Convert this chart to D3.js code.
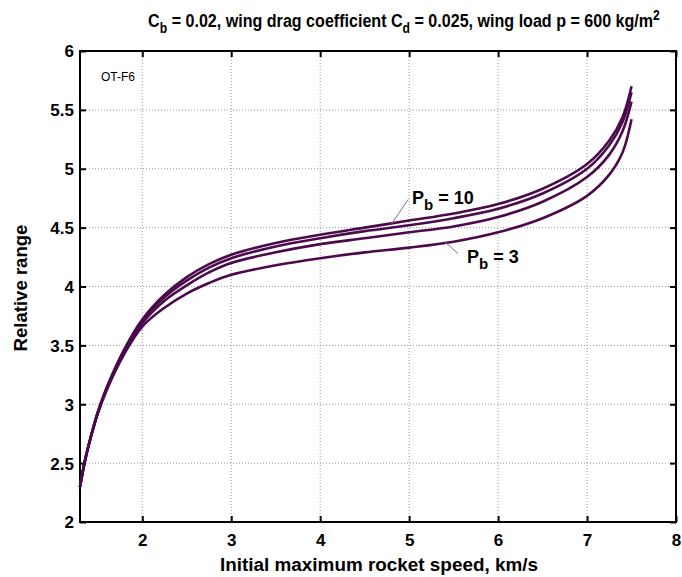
<!DOCTYPE html>
<html><head><meta charset="utf-8">
<script src="https://cdn.jsdelivr.net/npm/d3@7"></script>
<style>body{margin:0;background:#fff}svg text{font-family:"Liberation Sans",Arial,sans-serif}</style>
</head><body><svg id="c" width="682" height="577"></svg>
<script>
const speeds = [1.3, 1.35, 1.4, 1.5, 1.6, 1.8, 2.0, 2.25, 2.5, 2.75, 3.0, 3.5, 4.0, 4.5, 5.0, 5.5, 6.0, 6.5, 7.0, 7.25, 7.4, 7.5];
const rangePb10 = [2.30, 2.50, 2.66, 2.93, 3.14, 3.47, 3.72, 3.93, 4.08, 4.19, 4.27, 4.37, 4.44, 4.50, 4.56, 4.62, 4.70, 4.83, 5.04, 5.24, 5.44, 5.70];
const rangePb7  = [2.30, 2.50, 2.66, 2.93, 3.14, 3.46, 3.71, 3.91, 4.05, 4.16, 4.24, 4.34, 4.41, 4.47, 4.52, 4.58, 4.66, 4.79, 5.00, 5.20, 5.40, 5.65];
const rangePb5  = [2.30, 2.50, 2.66, 2.93, 3.13, 3.45, 3.69, 3.88, 4.01, 4.12, 4.20, 4.29, 4.36, 4.41, 4.46, 4.51, 4.59, 4.72, 4.93, 5.12, 5.32, 5.57];
const rangePb3  = [2.30, 2.50, 2.66, 2.92, 3.12, 3.43, 3.66, 3.82, 3.94, 4.03, 4.10, 4.18, 4.24, 4.29, 4.33, 4.38, 4.46, 4.58, 4.77, 4.95, 5.14, 5.42];
const seriesList = [rangePb10, rangePb7, rangePb5, rangePb3];
const xTicks = [2, 3, 4, 5, 6, 7, 8];
const yTicks = [2, 2.5, 3, 3.5, 4, 4.5, 5, 5.5, 6];

const L = 80, R = 676, T = 51, B = 522;
const svg = d3.select('#c');
const x = d3.scaleLinear().domain([1.3, 8]).range([L, R]);
const y = d3.scaleLinear().domain([2, 6]).range([B, T]);

// grid
const g = svg.append('g');
g.selectAll('line.gx').data(xTicks.filter(d => d < 8)).join('line')
  .attr('x1', d => x(d)).attr('x2', d => x(d)).attr('y1', T).attr('y2', B)
  .attr('stroke', '#9a9a9a').attr('stroke-width', 1).attr('stroke-dasharray', '1,2');
g.selectAll('line.gy').data(yTicks.filter(d => d > 2 && d < 6)).join('line')
  .attr('x1', L).attr('x2', R).attr('y1', d => y(d)).attr('y2', d => y(d))
  .attr('stroke', '#9a9a9a').attr('stroke-width', 1).attr('stroke-dasharray', '1,2');

// axes
const fmt = d => String(d);
const axB = svg.append('g').attr('transform', `translate(0,${B})`)
  .call(d3.axisBottom(x).tickValues(xTicks).tickFormat(fmt).tickSizeInner(-6).tickSizeOuter(0).tickPadding(12));
const axT = svg.append('g').attr('transform', `translate(0,${T})`)
  .call(d3.axisTop(x).tickValues(xTicks).tickFormat('').tickSizeInner(-6).tickSizeOuter(0));
const axLf = svg.append('g').attr('transform', `translate(${L},0)`)
  .call(d3.axisLeft(y).tickValues(yTicks).tickFormat(fmt).tickSizeInner(-6).tickSizeOuter(0).tickPadding(6));
const axRt = svg.append('g').attr('transform', `translate(${R},0)`)
  .call(d3.axisRight(y).tickValues(yTicks).tickFormat('').tickSizeInner(-6).tickSizeOuter(0));
[axB, axT, axLf, axRt].forEach(a => {
  a.select('.domain').remove();
  a.selectAll('.tick line').attr('stroke', '#000').attr('stroke-width', 2);
  a.selectAll('text').attr('font-size', 17).attr('font-weight', 'bold').attr('fill', '#000')
    .style('font-family', '"Liberation Sans",Arial,sans-serif');
});
axLf.selectAll('text').attr('dy', '0.35em');

svg.append('rect').attr('x', L).attr('y', T).attr('width', R - L).attr('height', B - T)
  .attr('fill', 'none').attr('stroke', '#000').attr('stroke-width', 2);

// curves
const line = d3.line().x((d, i) => x(speeds[i])).y(d => y(d)).curve(d3.curveCatmullRom.alpha(0.5));
svg.append('g').selectAll('path').data(seriesList).join('path')
  .attr('d', d => line(d)).attr('fill', 'none').attr('stroke', '#4b0a4b').attr('stroke-width', 2.6);

// fit helper: horizontally scale a text to a target width, centred at cx
function fit(sel, cx, yy, w, rot) {
  const len = sel.node().getComputedTextLength();
  const s = w / len;
  if (rot) sel.attr('transform', `translate(${cx},${yy}) rotate(-90) scale(${s},1)`);
  else sel.attr('transform', `translate(${cx},${yy}) scale(${s},1)`);
}

// annotations
const ann = svg.append('g');
ann.append('line').attr('x1', x(4.8)).attr('y1', y(4.53)).attr('x2', x(4.99)).attr('y2', y(4.74))
  .attr('stroke', '#777').attr('stroke-width', 1);
ann.append('line').attr('x1', x(5.4)).attr('y1', y(4.38)).attr('x2', x(5.55)).attr('y2', y(4.28))
  .attr('stroke', '#777').attr('stroke-width', 1);
const t1 = ann.append('text').attr('x', 412).attr('y', 204).attr('font-size', 18).attr('font-weight', 'bold');
t1.append('tspan').text('P');
t1.append('tspan').attr('dy', 6).attr('font-size', 15).text('b');
t1.append('tspan').attr('dy', -6).text(' = 10');
const t2 = ann.append('text').attr('x', 467).attr('y', 263).attr('font-size', 18).attr('font-weight', 'bold');
t2.append('tspan').text('P');
t2.append('tspan').attr('dy', 6).attr('font-size', 15).text('b');
t2.append('tspan').attr('dy', -6).text(' = 3');

svg.append('text').attr('x', 101).attr('y', 81).attr('font-size', 12).text('OT-F6');

// title
const tt = svg.append('text').attr('text-anchor', 'middle')
  .attr('font-size', 18.5).attr('font-weight', 'bold');
tt.append('tspan').text('C');
tt.append('tspan').attr('dy', 6).attr('font-size', 14).text('b');
tt.append('tspan').attr('dy', -6).text(' = 0.02, wing drag coefficient C');
tt.append('tspan').attr('dy', 6).attr('font-size', 14).text('d');
tt.append('tspan').attr('dy', -6).text(' = 0.025, wing load p = 600 kg/m');
tt.append('tspan').attr('dy', -7).attr('font-size', 14).text('2');
fit(tt, 404, 27, 512);

// axis labels
const xl = svg.append('text').attr('text-anchor', 'middle')
  .attr('font-size', 19).attr('font-weight', 'bold').text('Initial maximum rocket speed, km/s');
fit(xl, 379, 571, 318);
const yl = svg.append('text').attr('text-anchor', 'middle')
  .attr('font-size', 19).attr('font-weight', 'bold').text('Relative range');
fit(yl, 27, 288, 127, true);
</script></body></html>
